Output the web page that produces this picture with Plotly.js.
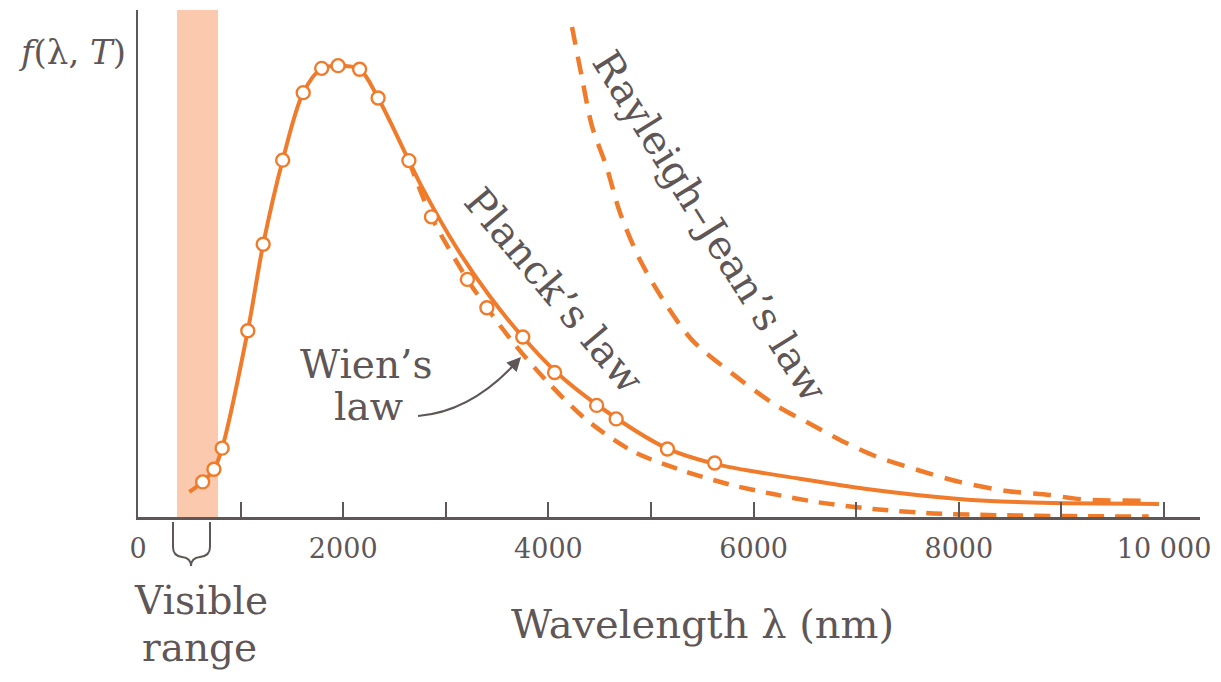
<!DOCTYPE html>
<html>
<head>
<meta charset="utf-8">
<script src="https://cdn.plot.ly/plotly-3.0.1.min.js"></script>
<style>
  html, body { margin: 0; padding: 0; background: #ffffff; }
  #chart { width: 1221px; height: 682px; }
</style>
</head>
<body>
<div id="chart"></div>
<script>
// ---- data (wavelength in nm, spectral intensity in arbitrary units) ----
const planckWavelength = [500, 630, 740, 820, 1070, 1220, 1410, 1610, 1790, 1950, 2160, 2340, 2640, 2770, 3100, 3430, 3750, 4080, 4500, 5150, 5640, 6450, 7100, 8000, 8720, 9950];
const planckValues     = [5.6, 7.8, 10.6, 15.3, 41.4, 60.6, 79.3, 94.3, 99.7, 100.3, 99.5, 93.1, 79.2, 73.2, 60.0, 49.0, 40.0, 32.1, 24.5, 15.3, 11.7, 8.5, 6.2, 4.0, 3.2, 2.9];

const measuredWavelength = [630, 740, 820, 1070, 1220, 1410, 1610, 1790, 1950, 2160, 2340, 2640, 2860, 3210, 3400, 3750, 4060, 4470, 4660, 5160, 5620];
const measuredValues     = [7.8, 10.6, 15.3, 41.4, 60.6, 79.3, 94.3, 99.7, 100.3, 99.5, 93.1, 79.2, 66.7, 52.8, 46.5, 40.0, 32.1, 24.8, 21.8, 15.1, 12.0];

const wienWavelength = [2640, 2860, 3210, 3400, 3670, 3980, 4370, 4830, 5310, 5770, 6190, 6620, 7160, 7750, 8400, 9100, 9850];
const wienValues     = [79.2, 66.7, 52.8, 46.5, 38.4, 30.3, 21.6, 14.5, 10.3, 7.2, 5.1, 3.3, 1.8, 0.8, 0.4, 0.2, 0.1];

const rayleighWavelength = [4230, 4330, 4425, 4565, 4695, 4890, 5150, 5405, 5795, 6225, 6575, 6870, 7200, 7590, 8005, 8465, 8885, 9205, 9860];
const rayleighValues     = [108.9, 97.2, 86.8, 77.9, 67.8, 57.2, 47.1, 39.2, 31.8, 24.7, 20.4, 16.8, 13.4, 10.5, 7.8, 5.8, 4.9, 3.9, 3.6];

const visibleRange = [380, 780];

const xTickValues = [0, 1000, 2000, 3000, 4000, 5000, 6000, 7000, 8000, 9000, 10000];
const xTickLabels = ['0', '', '2000', '', '4000', '', '6000', '', '8000', '', '10 000'];

// ---- styling ----
const ORANGE = '#ef7b2b';
const INK = '#5f5757';
const FONT = 'DejaVu Serif, Liberation Serif, serif';

// plot area geometry in pixels (for placing decorations)
const L = 138, R = 21, T = 10, B = 165, W = 1221, H = 682;
const plotW = W - L - R, plotH = H - T - B;
const px = x => (x - L) / plotW;          // pixel x -> paper x
const py = y => (H - B - y) / plotH;      // pixel y -> paper y

const traces = [
  {
    x: planckWavelength, y: planckValues, type: 'scatter', mode: 'lines',
    line: { color: ORANGE, width: 4, shape: 'spline', smoothing: 0.9 },
    hoverinfo: 'skip'
  },
  {
    x: wienWavelength, y: wienValues, type: 'scatter', mode: 'lines',
    line: { color: ORANGE, width: 4.5, dash: '16px,11px', shape: 'spline', smoothing: 0.8 },
    hoverinfo: 'skip'
  },
  {
    x: rayleighWavelength, y: rayleighValues, type: 'scatter', mode: 'lines',
    line: { color: ORANGE, width: 4.5, dash: '18px,12px', shape: 'spline', smoothing: 0.8 },
    hoverinfo: 'skip'
  },
  {
    x: measuredWavelength, y: measuredValues, type: 'scatter', mode: 'markers',
    marker: { size: 13, color: '#ffffff', line: { color: ORANGE, width: 2.4 } },
    hoverinfo: 'skip'
  }
];

function braceSvg() {
  const p = (x, y) => px(x).toFixed(5) + ',' + py(y).toFixed(5);
  return 'M ' + p(173, 522) + ' L ' + p(173, 547) +
         ' Q ' + p(173, 556) + ' ' + p(182, 557) +
         ' Q ' + p(191, 558) + ' ' + p(191, 566) +
         ' Q ' + p(191, 558) + ' ' + p(200, 557) +
         ' Q ' + p(210, 556) + ' ' + p(210, 547) +
         ' L ' + p(210, 522);
}
function arrowSvg() {
  const p = (x, y) => px(x).toFixed(5) + ',' + py(y).toFixed(5);
  return 'M ' + p(418, 416) + ' Q ' + p(468, 412) + ' ' + p(511, 368);
}

const layout = {
  width: W, height: H,
  margin: { l: L, r: R, t: T, b: B, pad: 0 },
  paper_bgcolor: '#ffffff',
  plot_bgcolor: 'rgba(0,0,0,0)',
  showlegend: false,
  xaxis: {
    range: [0, 10350],
    showgrid: false, zeroline: false,
    showline: true, linecolor: INK, linewidth: 2.5,
    ticks: 'inside', ticklen: 15, tickwidth: 2, tickcolor: INK,
    tickmode: 'array', tickvals: xTickValues, ticktext: xTickLabels,
    ticklabelstandoff: 6,
    tickfont: { family: FONT, size: 27, color: INK }
  },
  yaxis: {
    range: [0, 112.67],
    showgrid: false, zeroline: false,
    showline: true, linecolor: INK, linewidth: 2.5,
    ticks: '', showticklabels: false
  },
  shapes: [
    {
      type: 'rect', layer: 'below', xref: 'x', yref: 'paper',
      x0: visibleRange[0], x1: visibleRange[1], y0: 0, y1: 1,
      fillcolor: '#fbc9ae', line: { width: 0 }
    },
    {
      type: 'path', xref: 'paper', yref: 'paper', path: braceSvg(),
      line: { color: INK, width: 2 }
    },
    {
      type: 'path', xref: 'paper', yref: 'paper', path: arrowSvg(),
      line: { color: INK, width: 2 }
    }
  ],
  annotations: [
    { xref: 'paper', yref: 'paper', x: px(72), y: py(52), xanchor: 'center', yanchor: 'middle',
      text: '<i>f</i>(λ, <i>T</i>)', showarrow: false, font: { family: FONT, size: 34, color: INK } },
    { xref: 'paper', yref: 'paper', x: px(702), y: py(624), xanchor: 'center', yanchor: 'middle',
      text: 'Wavelength λ (nm)', showarrow: false, font: { family: FONT, size: 40, color: INK } },
    { xref: 'paper', yref: 'paper', x: px(201), y: py(600), xanchor: 'center', yanchor: 'middle',
      text: 'Visible', showarrow: false, font: { family: FONT, size: 39, color: INK } },
    { xref: 'paper', yref: 'paper', x: px(199), y: py(647), xanchor: 'center', yanchor: 'middle',
      text: 'range', showarrow: false, font: { family: FONT, size: 39, color: INK } },
    { xref: 'paper', yref: 'paper', x: px(366), y: py(364), xanchor: 'center', yanchor: 'middle',
      text: 'Wien’s', showarrow: false, font: { family: FONT, size: 39, color: INK } },
    { xref: 'paper', yref: 'paper', x: px(368), y: py(406), xanchor: 'center', yanchor: 'middle',
      text: 'law', showarrow: false, font: { family: FONT, size: 39, color: INK } },
    { xref: 'paper', yref: 'paper', x: px(554), y: py(290), xanchor: 'center', yanchor: 'middle',
      text: 'Planck’s law', textangle: 50, showarrow: false, font: { family: FONT, size: 40, color: INK } },
    { xref: 'paper', yref: 'paper', x: px(710), y: py(226), xanchor: 'center', yanchor: 'middle',
      text: 'Rayleigh–Jean’s law', textangle: 58, showarrow: false, font: { family: FONT, size: 40, color: INK } },
    { xref: 'paper', yref: 'paper', x: px(521), y: py(357), text: '', showarrow: true,
      ax: -12, ay: 13, arrowhead: 2, arrowsize: 1.4, arrowwidth: 2, arrowcolor: INK }
  ]
};

Plotly.newPlot('chart', traces, layout, { staticPlot: true, displayModeBar: false });
</script>
</body>
</html>
